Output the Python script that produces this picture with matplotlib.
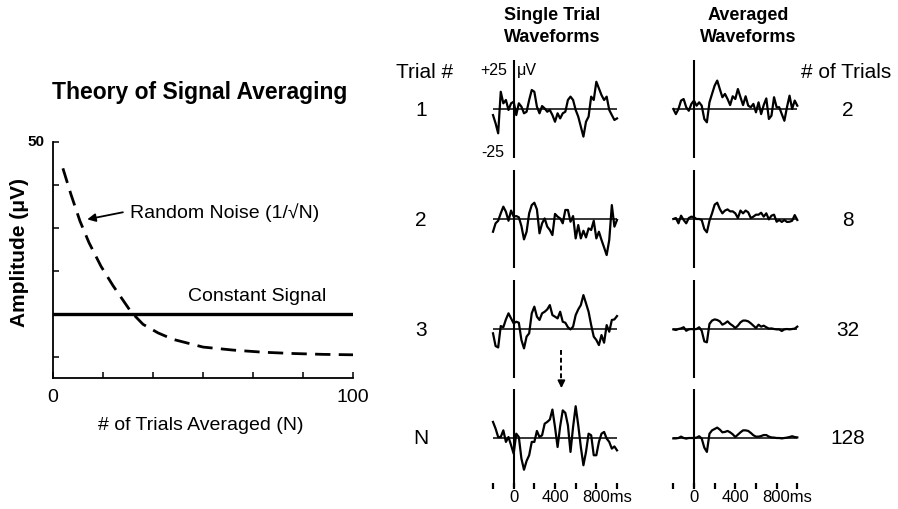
import numpy as np
import matplotlib.pyplot as plt

plt.rcParams['font.family'] = ['Liberation Sans', 'DejaVu Sans']

W, H = 898, 509

# theory panel
n_trials = [3.3, 6, 9, 12, 16, 20, 26, 30, 35, 40, 50, 60, 70, 80, 90, 100]
noise_amp = [43.8, 37.7, 31.5, 26.5, 21.0, 16.5, 10.4, 7.5, 5.5, 4.0, 2.2, 1.5, 1.0, 0.7, 0.5, 0.4]
signal_amp = 10

# ERP traces (uV), sampled every 25 ms from -200 to 1000 ms
times = np.arange(-200, 1001, 25)
trial_1 = [-3.1, -7.3, -12.4, 8.8, 2.9, 4.6, -0.5, 2.9, 3.7, -3.1, 2.9, 1.2, -2.2, -1.4, 4.6, 9.7,
           8.8, 1.2, -2.2, 1.5, 0.3, -1.4, -0.5, -3.1, -6.5, -2.2, -4.8, -2.2, -1.4, 4.6, 6.3, 4.6,
           -0.5, -3.9, -9.0, -14.1, -6.5, -3.9, 6.3, 4.6, 13.9, 10.5, 7.1, 4.6, 6.3, -0.5, -3.1, -5.6, -4.8]
trial_2 = [-6.5, -2.2, -0.9, 2.9, 6.3, 3.7, -0.9, 4.3, 1.2, 1.5, 0.9, -3.6, -10.4, -6.5, 2.9, 7.1,
           8.3, 4.9, -7.3, -2.2, 0.3, -3.9, -5.6, -8.2, 2.6, 1.2, 0.3, -2.2, 4.6, 4.6, -1.4, 1.5,
           -9.9, -3.1, -9.9, -6.0, -9.4, -4.8, -5.6, -0.9, -9.9, -6.5, -10.7, -14.5, -18.4, -10.7, 7.1, -3.9, -0.5]
trial_3 = [-2.2, -8.7, -9.4, 1.5, 0.9, 4.9, 8.0, 5.4, 2.9, 3.7, 3.2, -5.6, -9.9, -3.9, -2.2, 8.0,
           11.4, 6.3, 4.6, 8.0, 8.8, 10.0, 12.2, 7.1, 6.3, 5.4, 8.8, 3.7, 3.2, 0.9, -0.2, 1.2,
           7.1, 10.0, 12.2, 17.3, 13.1, 8.8, 2.0, -3.9, -5.6, -8.2, -3.1, -7.0, 2.0, -1.4, 4.6, 4.9, 6.6]
trial_n = [8.2, 4.8, 0.5, 0.5, 3.9, -2.0, 0.5, -3.7, -8.0, 2.2, 0.5, -10.5, -16.2, -11.7, -8.8, -2.0,
           -2.0, 3.6, 0.5, 1.4, 7.3, 8.2, 9.4, 14.5, 5.6, -4.6, 6.0, 14.1, 12.8, 6.5, -7.1, 5.6,
           16.2, 6.5, -4.6, -13.9, -7.1, 2.2, 1.4, -8.8, -8.8, -2.0, 2.2, 3.1, -0.3, -2.0, -5.4, -4.3, -6.3]

avg_2 = [0.0, -2.6, 0.0, 4.3, 5.1, 0.9, -0.9, 2.6, 4.3, 1.7, 3.4, 1.7, -5.1, -6.8, 3.4, 7.7,
         11.9, 14.5, 10.2, 6.0, 7.7, 5.1, 2.0, 6.5, 5.1, 10.2, 6.0, 2.0, 6.5, 1.7, 0.9, 2.6,
         -1.7, 3.4, -2.6, 2.0, 5.4, -5.1, -3.4, 6.0, 0.9, 0.9, -2.6, -6.0, 0.9, 6.8, 0.0, 4.3, 1.7]
avg_8 = [0.0, 0.5, -2.2, 1.7, -0.5, -2.2, 0.5, 1.2, 0.9, 0.0, 0.0, -0.5, -5.1, -6.8, -0.9, 2.9,
         7.3, 8.3, 5.1, 2.9, 4.3, 4.9, 3.9, 3.9, 2.9, 0.5, 4.3, 2.9, 4.3, 3.4, 0.5, 1.2,
         2.2, 2.2, 3.2, 1.2, 2.9, -0.2, 1.7, 2.2, -1.4, -0.5, -1.5, -0.5, -1.5, -1.4, -0.9, 2.0, -0.5]
avg_32 = [-0.2, -0.5, 0.0, 0.3, 0.9, -0.9, -0.2, 0.0, -0.2, 0.0, 0.9, -0.9, -6.3, -6.8, 2.6, 4.3,
          4.9, 4.6, 3.9, 2.2, 2.9, 3.9, 2.6, 1.7, 0.5, 1.7, 3.4, 4.3, 4.3, 3.9, 2.9, 1.7,
          0.5, 2.2, 1.2, 1.7, 0.9, 0.2, 0.3, 0.0, -0.2, -0.2, -1.0, -0.2, 0.0, -0.2, 0.0, 0.2, 1.2]
avg_128 = [-0.2, -0.2, 0.0, 0.7, 0.0, -0.3, 0.0, 0.0, 0.0, 0.2, 0.9, -0.3, -4.9, -7.1, 2.2, 3.9,
           4.6, 5.3, 4.3, 2.9, 3.1, 3.6, 2.9, 1.9, 0.5, 1.7, 2.9, 3.9, 3.9, 3.6, 2.6, 1.4,
           0.7, 0.7, 1.0, 1.5, 1.5, 0.7, 0.3, 0.2, 0.0, 0.0, -0.2, 0.0, 0.2, 0.5, 0.9, 0.5, 0.3]

single_trials = [trial_1, trial_2, trial_3, trial_n]
averaged = [avg_2, avg_8, avg_32, avg_128]
trial_labels = ['1', '2', '3', 'N']
avg_labels = ['2', '8', '32', '128']
tick_ms = [-200, 0, 200, 400, 600, 800, 1000]

fig = plt.figure(figsize=(W / 100, H / 100), dpi=100)


def fx(x):
    return x / W


def fy(y):
    return 1 - y / H


# ---- theory of signal averaging ----
ax = fig.add_axes([fx(53), fy(378), 300 / W, 236.3 / H])
ax.plot(n_trials, noise_amp, color='k', lw=2, dashes=(5.5, 3))
ax.plot([0, 100], [signal_amp, signal_amp], color='k', lw=2.4)
ax.set_xlim(0, 100)
ax.set_ylim(-5, 50)
for s in ['top', 'right']:
    ax.spines[s].set_visible(False)
for s in ['left', 'bottom']:
    ax.spines[s].set_linewidth(1.3)
ax.set_xticks(np.linspace(0, 100, 7))
ax.set_yticks([0, 10, 20, 30, 40, 50])
ax.set_xticklabels([])
ax.set_yticklabels([])
ax.tick_params(direction='in', length=4, width=1.1)
ax.text(0, -7.5, '0', ha='center', va='top', fontsize=14)
ax.text(100, -7.5, '100', ha='center', va='top', fontsize=14)
ax.text(-2.7, 50, '50', ha='right', va='center', fontsize=11, fontweight='bold')
ax.text(25.7, 33.6, 'Random Noise (1/\u221aN)', ha='left', va='center', fontsize=14)
ax.annotate('', xy=(10.5, 31.8), xytext=(24.2, 33.7),
            arrowprops=dict(arrowstyle='-|>', color='k', lw=1.3, mutation_scale=12))
ax.text(45, 14, 'Constant Signal', ha='left', va='center', fontsize=14)

fig.text(fx(200), fy(92), 'Theory of Signal Averaging', ha='center', va='center',
         fontsize=16.5, fontweight='bold')
fig.text(fx(20), fy(253), 'Amplitude (\u03bcV)', ha='center', va='center', rotation=90,
         fontsize=15, fontweight='bold')
fig.text(fx(201), fy(425), '# of Trials Averaged (N)', ha='center', va='center', fontsize=14)

# ---- waveform columns ----
bases = [109, 219, 329, 438]


def wave_axes(x0, base, vals):
    a = fig.add_axes([fx(x0), fy(base + 49), 124 / W, 98 / H])
    a.set_xlim(-200, 1000)
    a.set_ylim(-25, 25)
    a.axis('off')
    a.axhline(0, color='k', lw=1.1)
    a.axvline(0, color='k', lw=1.5)
    a.plot(times, vals, color='k', lw=1.6, clip_on=False)
    return a


single_axes = []
for base, vals, lab in zip(bases, single_trials, trial_labels):
    single_axes.append(wave_axes(493, base, vals))
    fig.text(fx(421), fy(base + 1), lab, ha='center', va='center', fontsize=15)

avg_axes = []
for base, vals, lab in zip(bases, averaged, avg_labels):
    avg_axes.append(wave_axes(673.3, base, vals))
    fig.text(fx(848), fy(base + 1), lab, ha='center', va='center', fontsize=15)

# scale labels on the first trial
a1 = single_axes[0]
a1.text(-68, 19.4, '+25', ha='right', va='center', fontsize=11.5)
a1.text(29, 19.4, '\u03bcV', ha='left', va='center', fontsize=11.5)
a1.text(-87, -22.4, '-25', ha='right', va='center', fontsize=11.5)

# time axis under the last row
for a in (single_axes[-1], avg_axes[-1]):
    a.plot(tick_ms, [-24.7] * len(tick_ms), ls='none', marker='|', ms=4, mew=1.6,
           color='k', clip_on=False)
    a.text(0, -30.5, '0', ha='center', va='center', fontsize=12)
    a.text(400, -30.5, '400', ha='center', va='center', fontsize=12)
    a.text(660, -30.5, '800ms', ha='left', va='center', fontsize=12)

# dashed arrow pointing at the N trial
a3 = single_axes[2]
a3.plot([462, 462], [-10.7, -27], color='k', lw=1.4, dashes=(2.5, 1.5), clip_on=False)
a3.annotate('', xy=(462, -31.6), xytext=(462, -26.5), annotation_clip=False,
            arrowprops=dict(arrowstyle='-|>', color='k', lw=1.2, mutation_scale=11))

fig.text(fx(425), fy(72), 'Trial #', ha='center', va='center', fontsize=15)
fig.text(fx(846), fy(72), '# of Trials', ha='center', va='center', fontsize=15)
for x, top, bottom in [(552, 'Single Trial', 'Waveforms'), (748, 'Averaged', 'Waveforms')]:
    fig.text(fx(x), fy(15), top, ha='center', va='center', fontsize=13, fontweight='bold')
    fig.text(fx(x), fy(38), bottom, ha='center', va='center', fontsize=13, fontweight='bold')

fig.savefig('out.png', dpi=100)
